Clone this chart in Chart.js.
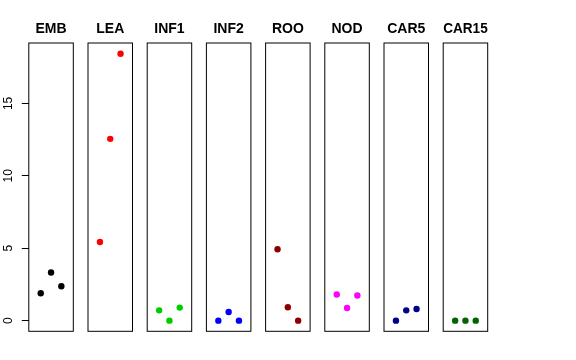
<!DOCTYPE html>
<html>
<head>
<meta charset="utf-8">
<script src="https://cdn.jsdelivr.net/npm/chart.js@4.4.0/dist/chart.umd.min.js"></script>
<style>
  body { margin: 0; background: #fff; }
  #wrap { position: relative; width: 576px; height: 360px; overflow: hidden; }
  .panel { position: absolute; top: 0; height: 360px; }
</style>
</head>
<body>
<div id="wrap"></div>
<script>
// Datos de cada panel (3 puntos por grupo)
const panelNames = ['EMB', 'LEA', 'INF1', 'INF2', 'ROO', 'NOD', 'CAR5', 'CAR15'];
const xIndex = [1, 2, 3];
const emb = [1.89, 3.32, 2.37];
const lea = [5.43, 12.55, 18.43];
const inf1 = [0.71, 0.0, 0.9];
const inf2 = [0.0, 0.6, 0.0];
const roo = [4.93, 0.92, 0.0];
const nod = [1.8, 0.87, 1.73];
const car5 = [0.0, 0.71, 0.8];
const car15 = [0.0, 0.0, 0.0];
const yTicks = [0, 5, 10, 15];
const panelColors = ['#000000', '#FF0000', '#00CD00', '#0000FF', '#8B0000', '#FF00FF', '#00008B', '#006400'];

const series = [emb, lea, inf1, inf2, roo, nod, car5, car15];

// Rango de ejes (estilo R: +4%)
const xMin = -0.16, xMax = 4.16;
const yMin = -0.737, yMax = 19.17;

// Geometría de los paneles
const boxLeft0 = 28.8, boxStep = 59.2, boxWidth = 44.5;
const boxTop = 43, boxBottom = 331.3;
const canvasWidth = 102; // canvas simétrico alrededor del recuadro (se superponen, son transparentes)
const fontFamily = '"Liberation Sans", Arial, Helvetica, sans-serif';

Chart.defaults.font.family = fontFamily;

// Dibuja el recuadro alrededor del área del gráfico
const boxPlugin = {
  id: 'panelBox',
  afterDraw(chart) {
    const a = chart.chartArea;
    const ctx = chart.ctx;
    ctx.save();
    ctx.strokeStyle = '#000';
    ctx.lineWidth = 1;
    ctx.strokeRect(a.left, a.top, a.right - a.left, a.bottom - a.top);
    ctx.restore();
  }
};

const wrap = document.getElementById('wrap');

panelNames.forEach((name, i) => {
  const boxLeft = boxLeft0 + i * boxStep;
  const first = i === 0;
  const center = boxLeft + boxWidth / 2;
  const canvasLeft = Math.round(center - canvasWidth / 2);
  const offset = boxLeft - canvasLeft;
  const padLeft = first ? 0 : offset;
  const padRight = canvasWidth - offset - boxWidth;

  const div = document.createElement('div');
  div.className = 'panel';
  div.style.left = canvasLeft + 'px';
  div.style.width = canvasWidth + 'px';
  const canvas = document.createElement('canvas');
  div.appendChild(canvas);
  wrap.appendChild(div);

  new Chart(canvas.getContext('2d'), {
    type: 'scatter',
    data: {
      datasets: [{
        data: xIndex.map((x, k) => ({ x: x, y: series[i][k] })),
        backgroundColor: panelColors[i],
        borderWidth: 0,
        pointRadius: 3.2,
        pointHoverRadius: 3.2
      }]
    },
    options: {
      responsive: true,
      maintainAspectRatio: false,
      animation: false,
      events: [],
      layout: {
        padding: { left: padLeft, right: padRight, top: 0, bottom: 360 - boxBottom }
      },
      plugins: {
        legend: { display: false },
        tooltip: { enabled: false },
        title: {
          display: true,
          text: name,
          fullSize: !first, // el primer panel tiene eje Y: centrar sobre el área
          color: '#000',
          font: { size: 14, weight: 'bold' },
          padding: { top: 21, bottom: boxTop - 21 - 16.8 }
        }
      },
      scales: {
        x: { type: 'linear', min: xMin, max: xMax, display: false },
        y: {
          type: 'linear',
          min: yMin,
          max: yMax,
          display: first,
          afterBuildTicks: s => { s.ticks = yTicks.map(v => ({ value: v })); },
          afterFit: first ? s => { s.width = offset; } : undefined,
          grid: { drawOnChartArea: false, drawTicks: true, tickLength: 7, color: '#000' },
          border: { display: false },
          ticks: {
            minRotation: 90,
            maxRotation: 90,
            crossAlign: 'center',
            padding: 6,
            color: '#000',
            font: { size: 12 }
          }
        }
      }
    },
    plugins: [boxPlugin]
  });
});
</script>
</body>
</html>
